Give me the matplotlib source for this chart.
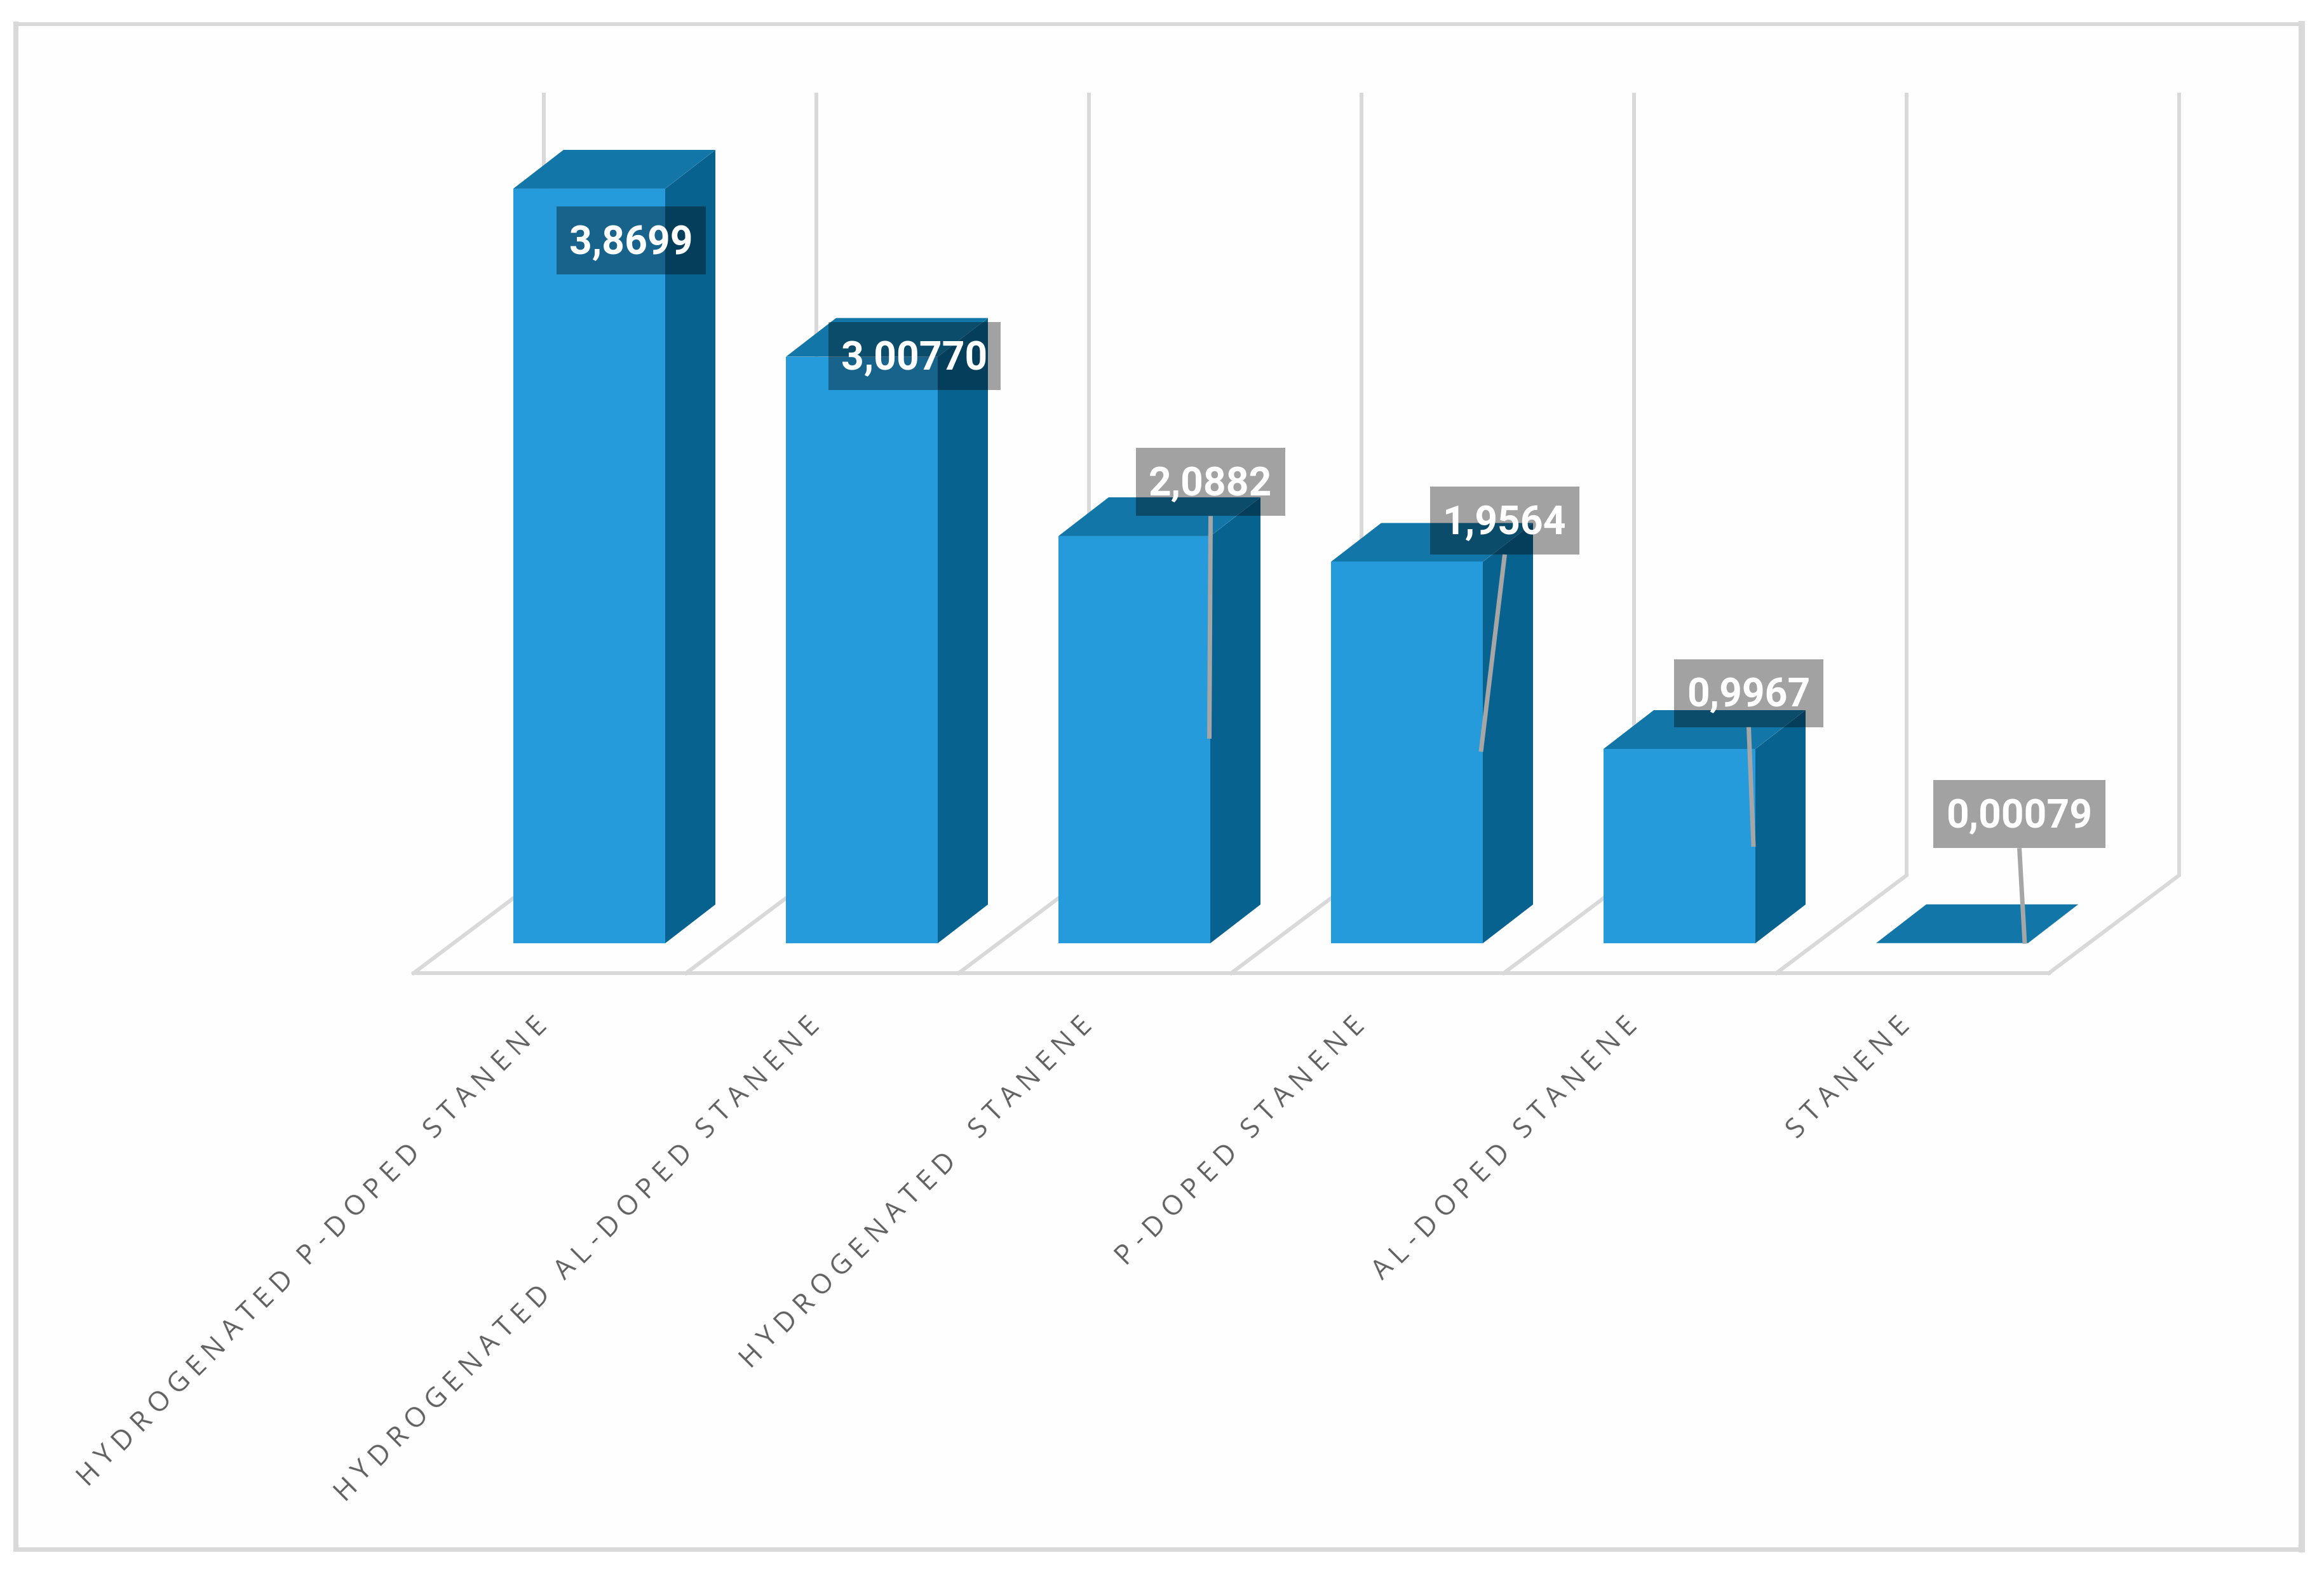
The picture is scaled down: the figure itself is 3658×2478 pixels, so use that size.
import math
import matplotlib
matplotlib.use("Agg")
import matplotlib.pyplot as plt
from matplotlib.patches import Polygon, Rectangle
from matplotlib.text import Text
from matplotlib.transforms import Bbox, IdentityTransform

categories = ["HYDROGENATED P-DOPED STANENE", "HYDROGENATED AL-DOPED STANENE",
              "HYDROGENATED  STANENE", "P-DOPED STANENE", "AL-DOPED STANENE", "STANENE"]
values = [3.8699, 3.00770, 2.0882, 1.9564, 0.9967, 0.00079]
value_labels = ["3,8699", "3,00770", "2,0882", "1,9564", "0,9967", "0,00079"]

W, H, DPI = 3658, 2478, 100
X_STEP, Y_UNIT = 429.0, 307.0          # pixels per category, per value unit
X0, Y0 = 927.5, 1485.0                 # pixel of first category centre, of value 0

FRONT, SIDE, TOP = "#259BDB", "#08628F", "#1277A8"
GRID = "#D9D9D9"
LEADER = "#A6A6A6"


class SpacedText(Text):
    """A text with letter spacing, anchored at the right end of its baseline."""
    def __init__(self, *args, tracking=0.0, space_scale=1.0, **kw):
        super().__init__(*args, **kw)
        self._tracking = tracking
        self._space_scale = space_scale

    def _glyphs(self, renderer):
        fp = self.get_fontproperties()
        def width(s):
            return renderer.get_text_width_height_descent(s, fp, False)[0]
        s = self.get_text()
        space = (width("H H") - width("HH")) * self._space_scale
        adv = [space if c == " " else width(c) for c in s]
        total = sum(adv) + self._tracking * (len(s) - 1)
        a = math.radians(self.get_rotation())
        xe, ye = self.get_transform().transform(self.get_position())
        d = -total
        out = []
        for c, w in zip(s, adv):
            if c != " ":
                t = Text(xe + d * math.cos(a), ye + d * math.sin(a), c, rotation=self.get_rotation(),
                         rotation_mode="anchor", ha="left", va="baseline",
                         color=self.get_color(), fontproperties=fp, transform=IdentityTransform())
                t.set_figure(self.get_figure())
                out.append(t)
            d += w + self._tracking
        return out

    def draw(self, renderer):
        if self.get_visible():
            for g in self._glyphs(renderer):
                g.draw(renderer)

    def get_window_extent(self, renderer=None, dpi=None):
        r = renderer or self.get_figure().canvas.get_renderer()
        return Bbox.union([g.get_window_extent(r) for g in self._glyphs(r)])


fig = plt.figure(figsize=(W / DPI, H / DPI), dpi=DPI, facecolor="white")
ax = fig.add_axes([0, 0, 1, 1])
ax.set_xlim((0 - X0) / X_STEP, (W - X0) / X_STEP)
ax.set_ylim((Y0 - H) / Y_UNIT, Y0 / Y_UNIT)
ax.axis("off")

px = 72 / DPI
dx = lambda p: p / X_STEP
dy = lambda p: p / Y_UNIT

# chart frame (axes fractions)
L, R, T, B = 25 / W, 3623 / W, 1 - 38 / H, 1 - 2439 / H
ax.add_patch(Rectangle((L, B), R - L, T - B, transform=ax.transAxes, fc="#FEFEFE", ec="none", zorder=0))
for xs, ys, lw in [((L, L), (B, T), 8), ((R, R), (B, T), 10), ((L, R), (T, T), 6), ((L, R), (B, B), 7)]:
    ax.plot(xs, ys, transform=ax.transAxes, color=GRID, lw=lw * px, solid_capstyle="projecting", zorder=1)

# floor and back wall
n = len(categories)
fx, fy = dx(-62), dy(-47)       # front edge of floor relative to bar base
bx, by = dx(143), dy(107)       # back edge of floor relative to bar base
wall_top = dy(Y0 - 149)
ax.plot([-0.5 + fx, n - 0.5 + fx], [fy, fy], color=GRID, lw=6 * px, zorder=1)
for k in range(n + 1):
    xk = k - 0.5
    ax.plot([xk + fx, xk + bx, xk + bx], [fy, by, wall_top], color=GRID, lw=6 * px,
            solid_joinstyle="miter", zorder=1)

# 3-D bars
bw, depx, depy = dx(239), dx(79), dy(61)
for i, v in enumerate(values):
    l, r = i - bw / 2, i + bw / 2
    ax.add_patch(Polygon([(r, 0), (r + depx, depy), (r + depx, v + depy), (r, v)], fc=SIDE, ec="none", zorder=2))
    ax.add_patch(Polygon([(l, v), (r, v), (r + depx, v + depy), (l + depx, v + depy)], fc=TOP, ec="none", zorder=2))
    ax.add_patch(Rectangle((l, 0), bw, v, fc=FRONT, ec="none", zorder=3))

# data labels: box centre and leader tip, as pixel offsets from the bar's top centre
box_offsets = [(66, -82), (83, 1), (120, 85), (154, 65), (109, 88), (106, 203)]
leader_tips = [None, None, (118, -319), (116.5, -299), (116.5, -154), (114.5, -1)]
box_h = 107
for i, (v, lab) in enumerate(zip(values, value_labels)):
    ox, oy = box_offsets[i]
    box_w = 271 if len(lab) == 7 else 235
    cx, cy = i + dx(ox), v + dy(oy)
    ax.add_patch(Rectangle((cx - dx(box_w / 2), cy - dy(box_h / 2)), dx(box_w), dy(box_h),
                           fc="black", alpha=0.36, ec="none", zorder=5))
    ax.text(cx, cy + dy(2), lab, color="white", fontsize=45, family="Roboto", weight="bold",
            ha="center", va="center_baseline", zorder=6)
    if leader_tips[i] is not None:
        tx, ty = leader_tips[i]
        ax.plot([cx, i + dx(tx)], [cy - dy(box_h / 2), v + dy(ty)], color=LEADER, lw=7 * px,
                solid_capstyle="butt", zorder=4)

# category labels
for i, name in enumerate(categories):
    t = SpacedText(i + dx(-66), dy(Y0 - 1614), name, tracking=10.9, space_scale=0.75, rotation=45,
                   color="#606060", fontsize=31, family="Open Sans", transform=ax.transData, zorder=6)
    ax.add_artist(t)

fig.savefig("out.png", dpi=DPI)
